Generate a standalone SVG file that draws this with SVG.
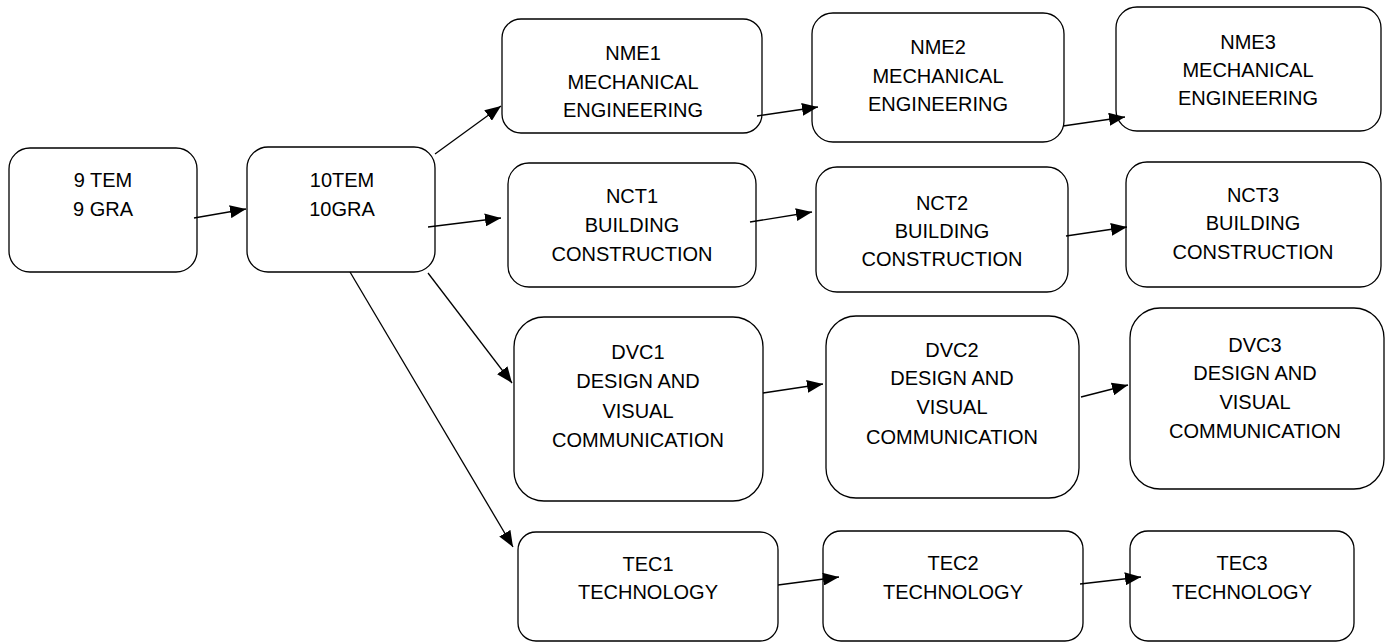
<svg xmlns="http://www.w3.org/2000/svg" width="1392" height="643" viewBox="0 0 1392 643">
<style>
.box{fill:#fff;stroke:#000;stroke-width:1.3}
.t{font-family:"Liberation Sans",Arial,sans-serif;font-size:20px;fill:#000;text-anchor:middle}
.c{stroke:#000;stroke-width:1.3;fill:none;marker-end:url(#ah)}
</style>
<defs>
<marker id="ah" markerUnits="userSpaceOnUse" markerWidth="17" markerHeight="13" refX="16" refY="6.5" orient="auto" viewBox="0 0 17 13">
<path d="M0,0 L16,6.5 L0,13 z" fill="#000"/>
</marker>
</defs>
<rect width="1392" height="643" fill="#fff"/>
<g id="n9">
<rect class="box" x="9" y="148" width="188" height="124" rx="21"/>
<text class="t" x="103" y="187">9 TEM</text>
<text class="t" x="103" y="216">9 GRA</text>
</g>
<g id="n10">
<rect class="box" x="247" y="147" width="188" height="125" rx="21"/>
<text class="t" x="342" y="187">10TEM</text>
<text class="t" x="342" y="216">10GRA</text>
</g>
<g id="nme1">
<rect class="box" x="502" y="19" width="260" height="114" rx="19"/>
<text class="t" x="633" y="60">NME1</text>
<text class="t" x="633" y="89">MECHANICAL</text>
<text class="t" x="633" y="117">ENGINEERING</text>
</g>
<g id="nme2">
<rect class="box" x="812" y="13" width="252" height="129" rx="21"/>
<text class="t" x="938" y="54">NME2</text>
<text class="t" x="938" y="83">MECHANICAL</text>
<text class="t" x="938" y="111">ENGINEERING</text>
</g>
<g id="nme3">
<rect class="box" x="1116" y="7" width="265" height="124" rx="21"/>
<text class="t" x="1248" y="49">NME3</text>
<text class="t" x="1248" y="77">MECHANICAL</text>
<text class="t" x="1248" y="105">ENGINEERING</text>
</g>
<g id="nct1">
<rect class="box" x="508" y="163" width="248" height="124" rx="21"/>
<text class="t" x="632" y="203">NCT1</text>
<text class="t" x="632" y="232">BUILDING</text>
<text class="t" x="632" y="261">CONSTRUCTION</text>
</g>
<g id="nct2">
<rect class="box" x="816" y="167" width="252" height="125" rx="21"/>
<text class="t" x="942" y="210">NCT2</text>
<text class="t" x="942" y="238">BUILDING</text>
<text class="t" x="942" y="266">CONSTRUCTION</text>
</g>
<g id="nct3">
<rect class="box" x="1126" y="162" width="255" height="125" rx="21"/>
<text class="t" x="1253" y="202">NCT3</text>
<text class="t" x="1253" y="230">BUILDING</text>
<text class="t" x="1253" y="259">CONSTRUCTION</text>
</g>
<g id="dvc1">
<rect class="box" x="514" y="317" width="249" height="184" rx="30"/>
<text class="t" x="638" y="359">DVC1</text>
<text class="t" x="638" y="388">DESIGN AND</text>
<text class="t" x="638" y="418">VISUAL</text>
<text class="t" x="638" y="447">COMMUNICATION</text>
</g>
<g id="dvc2">
<rect class="box" x="826" y="316" width="253" height="182" rx="30"/>
<text class="t" x="952" y="357">DVC2</text>
<text class="t" x="952" y="385">DESIGN AND</text>
<text class="t" x="952" y="414">VISUAL</text>
<text class="t" x="952" y="444">COMMUNICATION</text>
</g>
<g id="dvc3">
<rect class="box" x="1130" y="308" width="254" height="181" rx="30"/>
<text class="t" x="1255" y="352">DVC3</text>
<text class="t" x="1255" y="380">DESIGN AND</text>
<text class="t" x="1255" y="409">VISUAL</text>
<text class="t" x="1255" y="438">COMMUNICATION</text>
</g>
<g id="tec1">
<rect class="box" x="518" y="532" width="260" height="109" rx="18"/>
<text class="t" x="648" y="571">TEC1</text>
<text class="t" x="648" y="599">TECHNOLOGY</text>
</g>
<g id="tec2">
<rect class="box" x="823" y="531" width="260" height="110" rx="18"/>
<text class="t" x="953" y="570">TEC2</text>
<text class="t" x="953" y="599">TECHNOLOGY</text>
</g>
<g id="tec3">
<rect class="box" x="1130" y="531" width="224" height="110" rx="18"/>
<text class="t" x="1242" y="570">TEC3</text>
<text class="t" x="1242" y="599">TECHNOLOGY</text>
</g>
<g id="connectors">
<line class="c" x1="194" y1="218" x2="246" y2="209"/>
<line class="c" x1="435" y1="154" x2="501" y2="106"/>
<line class="c" x1="428" y1="227" x2="501" y2="218"/>
<line class="c" x1="428" y1="273" x2="512" y2="383"/>
<line class="c" x1="350" y1="272" x2="513" y2="547"/>
<line class="c" x1="757" y1="116" x2="818" y2="107"/>
<line class="c" x1="1063" y1="126" x2="1125" y2="117"/>
<line class="c" x1="750" y1="222" x2="812" y2="212"/>
<line class="c" x1="1066" y1="236" x2="1127" y2="227"/>
<line class="c" x1="763" y1="393" x2="823" y2="384"/>
<line class="c" x1="1081" y1="397" x2="1128" y2="385"/>
<line class="c" x1="778" y1="585" x2="839" y2="577"/>
<line class="c" x1="1080" y1="584" x2="1141" y2="577"/>
</g>
</svg>
